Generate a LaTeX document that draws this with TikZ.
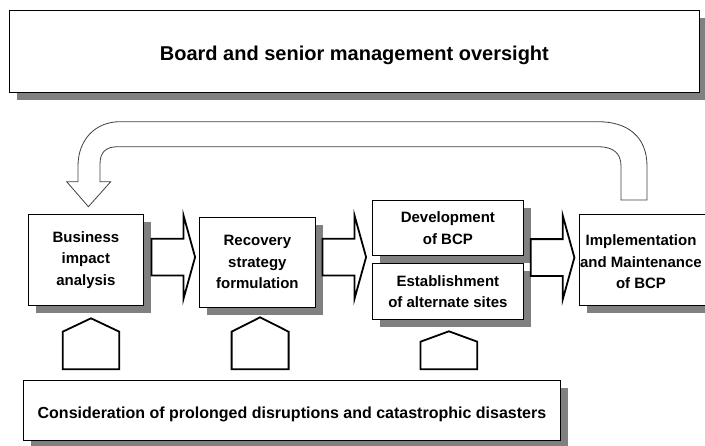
\documentclass[tikz,border=0pt]{standalone}
\usepackage{fontspec}
\setmainfont{Liberation Sans}
\usetikzlibrary{calc,positioning,shadows}

\tikzset{
  box/.style={draw=black,line width=0.8pt,fill=white,anchor=north west,align=center,
    drop shadow={shadow xshift=8pt,shadow yshift=-8pt,fill=gray,opacity=1}},
  proc/.style={box,font=\fontsize{15}{21.5}\selectfont\bfseries},
  blockarrow/.style={draw=black,line width=1.8pt,fill=white,line join=miter},
  looparrow/.style={draw=black!75,line width=0.8pt,fill=white},
}

\begin{document}
\begin{tikzpicture}[x=1pt,y=-1pt]
  \useasboundingbox (0,0) rectangle (705,445);
  \clip (0,0) rectangle (705,445);
  % oversight
  \node[box,minimum width=690,minimum height=82,text height=23.5pt,text depth=4.2pt,font=\fontsize{20}{24}\selectfont\bfseries] (board) at (9,9.5) {Board and senior management oversight};
  % process
  \node[proc,minimum width=115,minimum height=91] (bia) at (28,214) {Business\\impact\\analysis};
  \node[proc,minimum width=116,minimum height=90] (rsf) at (199,217) {Recovery\\strategy\\formulation};
  \node[proc,minimum width=151,minimum height=55] (dev) at (372,200) {Development\\of BCP};
  \node[proc,minimum width=151,minimum height=56] (est) at (372,263) {Establishment\\of alternate sites};
  \node[proc,minimum width=140,minimum height=91] (imp) at (579,214) {};
  \node[font=\fontsize{15}{21.5}\selectfont\bfseries,align=center] (impt) at (641,262) {Implementation\\and Maintenance\\of BCP};
  % feedback loop
  \coordinate (tip) at ($(bia.north)+(2.5,-7.3)$);
  \coordinate (foot) at ($(imp.north west)+(42,-14)$);
  \draw[looparrow] (tip) -- (110.7,181.7) -- (100,181.7) -- (100,164)
    .. controls (100,152) and (106,146.7) .. (118,146.7) -- (598,146.7)
    .. controls (613,146.7) and (621,153) .. (621,166) -- (foot) -- ++(26,0) -- (647,166)
    .. controls (647,137) and (628,121.7) .. (598,121.7) -- (120,121.7)
    .. controls (95,121.7) and (78,140) .. (78,166) -- (78,181.7) -- (66.7,181.7) -- cycle;
  % block arrows
  \coordinate (a1) at ($(bia.east)+(7.7,-2.8)$);
  \coordinate (a2) at ($(rsf.east)+(6.7,-5.3)$);
  \coordinate (a3) at ($(dev.south east)+(7,1.7)$);
  \draw[blockarrow] (a1) ++(0,-18.4) -- ++(32,0) -- ++(0,-23.3) -- ++(11.6,41.7) -- ++(-11.6,41.7) -- ++(0,-23.3) -- ++(-32,0) -- cycle;
  \draw[blockarrow] (a2) ++(0,-18.4) -- ++(32,0) -- ++(0,-23.3) -- ++(11.6,41.7) -- ++(-11.6,41.7) -- ++(0,-23.3) -- ++(-32,0) -- cycle;
  \draw[blockarrow] (a3) ++(0,-18.4) -- ++(32,0) -- ++(0,-23.3) -- ++(11.6,41.7) -- ++(-11.6,41.7) -- ++(0,-23.3) -- ++(-32,0) -- cycle;
  % consideration
  \node[box,minimum width=537,minimum height=60,text height=20pt,text depth=3.4pt,font=\fontsize{16}{19}\selectfont\bfseries] (cpd) at (23,380) {Consideration of prolonged disruptions and catastrophic disasters};
  \coordinate (p1) at ($(cpd.north west)+(39.7,-10.7)$);
  \coordinate (p2) at ($(cpd.north west)+(208.6,-10.7)$);
  \coordinate (p3) at ($(cpd.north west)+(397.5,-10.7)$);
  \draw[blockarrow] (p1) -- ++(0,-37.6) -- ++(28.3,-13.4) -- ++(28.3,13.4) -- ++(0,37.6) -- cycle;
  \draw[blockarrow] (p2) -- ++(0,-37.6) -- ++(28.5,-14.4) -- ++(28.5,14.4) -- ++(0,37.6) -- cycle;
  \draw[blockarrow] (p3) -- ++(0,-27.6) -- ++(28.4,-10.4) -- ++(28.4,10.4) -- ++(0,27.6) -- cycle;
\end{tikzpicture}
\end{document}
